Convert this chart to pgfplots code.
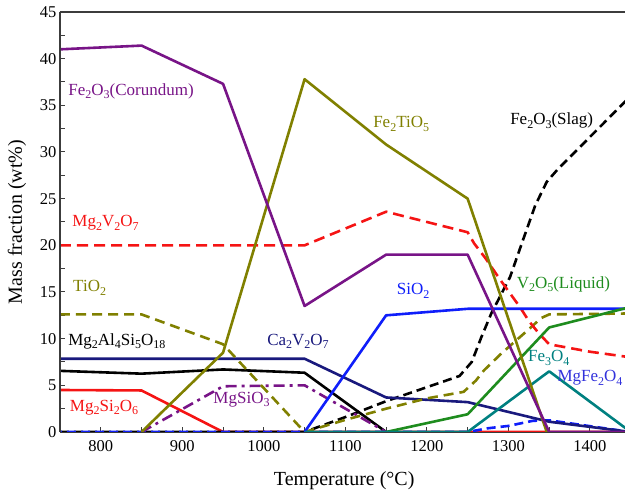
\documentclass[border=0pt]{standalone}
\usepackage{fontspec}
\setmainfont{Liberation Serif}
\usepackage{pgfplots}
\pgfplotsset{compat=1.18}
\usetikzlibrary{calc}

\definecolor{cPurple}{RGB}{120,20,135}
\definecolor{cOlive}{RGB}{128,128,0}
\definecolor{cRed}{RGB}{245,20,20}
\definecolor{cNavy}{RGB}{25,25,125}
\definecolor{cBlue}{RGB}{15,30,250}
\definecolor{cGreen}{RGB}{30,140,30}
\definecolor{cTeal}{RGB}{0,128,128}
\definecolor{cMgFe}{RGB}{50,50,220}
\definecolor{cAxis}{RGB}{60,60,60}

\newcommand{\sub}[1]{\raisebox{-0.45ex}{\fontsize{12}{14}\selectfont #1}}
\newcommand{\lab}{\fontsize{17}{20}\selectfont}

\begin{document}
\begin{tikzpicture}
\begin{axis}[
  scale only axis, width=565pt, height=420pt,
  xmin=750, xmax=1443, ymin=0, ymax=45,
  xtick={800,900,...,1400}, minor xtick={850,950,...,1350},
  ytick={0,5,...,45}, minor ytick={2.5,7.5,...,42.5},
  tick align=inside, xtick pos=left, ytick pos=left,
  major tick length=5pt, minor tick length=5pt,
  every tick/.style={cAxis, line width=1pt},
  separate axis lines,
  x axis line style={cAxis, line width=1.5pt},
  y axis line style={draw=none},
  ticklabel style={font=\fontsize{16.5}{18}\selectfont},
  xticklabel style={yshift=-5pt},
  /pgf/number format/assume math mode=true,
  /pgf/number format/1000 sep={},
  xlabel={Temperature (°C)},
  ylabel={Mass fraction (wt\%)},
  label style={font=\fontsize{20}{24}\selectfont},
  xlabel style={at={(axis description cs:0.503,-0.117)}, anchor=center},
  ylabel style={at={(axis description cs:-0.076,0.5)}, anchor=center},
  every axis plot/.append style={line width=2.6pt, line join=round},
]

% Mg2Si2O6
\addplot[cRed] coordinates {(750,4.5) (850,4.45) (950,0) (1450,0)};
% Fe2O3 (slag)
\addplot[black, dash pattern=on 9pt off 5pt] coordinates {
  (750,0) (1050,0) (1100,1.6) (1150,3.3) (1200,4.8) (1240,6.0) (1255,7.5)
  (1267,10.2) (1279,12.7) (1302,16.6) (1318,20.6) (1333,24.3) (1347,26.8)
  (1360,28.1) (1450,36.0)};
% MgFe2O4
\addplot[cBlue, dash pattern=on 9pt off 5pt, dash phase=7pt] coordinates {
  (750,0) (1250,0) (1275,0.4) (1300,0.65) (1330,1.2) (1350,1.25) (1450,0)};
% Mg2Al4Si5O18
\addplot[black] coordinates {(750,6.55) (850,6.25) (950,6.7) (1050,6.35) (1150,0)};
% Ca2V2O7
\addplot[cNavy] coordinates {(750,7.85) (1050,7.85) (1150,3.7) (1250,3.2) (1350,1.1) (1450,0)};
% MgSiO3
\addplot[cPurple, dash pattern=on 11pt off 5pt on 3pt off 5pt] coordinates {
  (850,0) (950,4.9) (1050,5.0) (1150,0)};
% TiO2
\addplot[cOlive, dash pattern=on 10pt off 6pt] coordinates {
  (750,12.6) (850,12.6) (950,9.4) (1050,0) (1100,1.3) (1150,2.5) (1200,3.6)
  (1245,4.3) (1260,5.5) (1270,6.6) (1290,8.3) (1308,9.7) (1325,11.0)
  (1340,12.2) (1350,12.6) (1450,12.7)};
% Mg2V2O7
\addplot[cRed, dash pattern=on 11pt off 6pt] coordinates {
  (750,20) (850,20) (950,20) (1050,20) (1150,23.6) (1250,21.4) (1258,20.2)
  (1272,18.6) (1290,16.3) (1314,13.4) (1325,11.9) (1337,10.6) (1350,9.4)
  (1400,8.6) (1450,8.0)};
% SiO2
\addplot[cBlue] coordinates {(1050,0) (1150,12.5) (1250,13.2) (1450,13.2)};
% V2O5 (liquid)
\addplot[cGreen] coordinates {(1150,0) (1250,1.9) (1350,11.2) (1450,13.4)};
% Fe3O4
\addplot[cTeal] coordinates {(1050,0) (1250,0) (1350,6.5) (1450,0)};
% Fe2TiO5
\addplot[cOlive] coordinates {(850,0) (950,8.5) (1050,37.8) (1150,30.8) (1250,25.0) (1347,0)};
% Fe2O3 (corundum)
\addplot[cPurple] coordinates {(750,41.0) (850,41.4) (950,37.3) (1050,13.5) (1150,19.0) (1250,19.0) (1350,0) (1450,0)};

% phase labels
\node[anchor=base west, text=cPurple, font=\lab, inner sep=0pt] at (axis cs:760,36.1) {Fe\sub{2}O\sub{3}(Corundum)};
\node[anchor=base west, text=cRed, font=\lab, inner sep=0pt] at (axis cs:765,22.0) {Mg\sub{2}V\sub{2}O\sub{7}};
\node[anchor=base west, text=cOlive, font=\lab, inner sep=0pt] at (axis cs:766,15.0) {TiO\sub{2}};
\node[anchor=base west, text=black, font=\lab, inner sep=0pt] at (axis cs:760,9.3) {Mg\sub{2}Al\sub{4}Si\sub{5}O\sub{18}};
\node[anchor=base west, text=cRed, font=\lab, inner sep=0pt] at (axis cs:762,2.2) {Mg\sub{2}Si\sub{2}O\sub{6}};
\node[anchor=base west, text=cPurple, font=\lab, inner sep=0pt] at (axis cs:938,3.1) {MgSiO\sub{3}};
\node[anchor=base west, text=cNavy, font=\lab, inner sep=0pt] at (axis cs:1004,9.3) {Ca\sub{2}V\sub{2}O\sub{7}};
\node[anchor=base west, text=cBlue, font=\lab, inner sep=0pt] at (axis cs:1163,14.7) {SiO\sub{2}};
\node[anchor=base west, text=cOlive, font=\lab, inner sep=0pt] at (axis cs:1134,32.6) {Fe\sub{2}TiO\sub{5}};
\node[anchor=base west, text=black, font=\lab, inner sep=0pt] at (axis cs:1302,32.9) {Fe\sub{2}O\sub{3}(Slag)};
\node[anchor=base west, text=cGreen, font=\lab, inner sep=0pt] at (axis cs:1310,15.4) {V\sub{2}O\sub{5}(Liquid)};
\node[anchor=base west, text=cTeal, font=\lab, inner sep=0pt] at (axis cs:1324,7.5) {Fe\sub{3}O\sub{4}};
\node[anchor=base west, text=cMgFe, font=\lab, inner sep=0pt] at (axis cs:1360,5.4) {MgFe\sub{2}O\sub{4}};
\end{axis}
\draw[cAxis, line width=1.5pt] (current axis.south west) -- (current axis.north west);
\pgfresetboundingbox
\path[use as bounding box] ($(current axis.south west)+(-60pt,-61pt)$) rectangle ($(current axis.north east)+(0pt,12pt)$);
\end{tikzpicture}
\end{document}
